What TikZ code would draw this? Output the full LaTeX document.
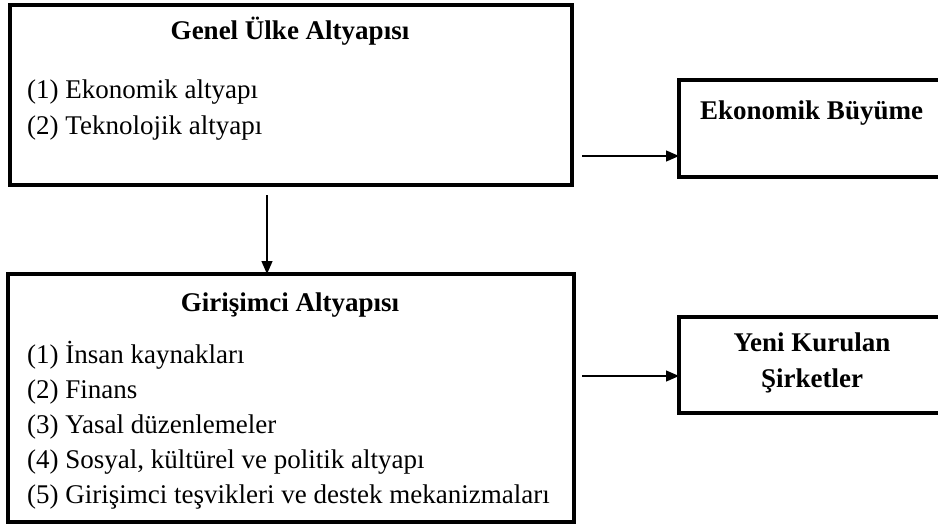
\documentclass[tikz,border=0pt]{standalone}
\usepackage{fontspec}
\setmainfont{Liberation Serif}
\usetikzlibrary{arrows.meta}
\begin{document}
\begin{tikzpicture}[x=1pt,y=-1pt,
  box/.style={draw=black, line width=3.8pt, anchor=north west, inner sep=0pt, outer sep=0pt},
  head/.style={font=\fontsize{27}{33}\selectfont\bfseries, inner sep=0pt, text height=19pt, text depth=6pt},
  item/.style={font=\fontsize{27}{33}\selectfont, anchor=west, inner sep=0pt, text height=19pt, text depth=6pt},
  conn/.style={line width=1.3pt, -{Triangle[length=13pt,width=11pt]}}]
\fill[white] (0,0) rectangle (938,528);
\useasboundingbox (0,0) rectangle (938,528);
\clip (0,0) rectangle (938,528);
% boxes
\node[box, minimum width=562pt, minimum height=180pt] (top) at (10,5) {};
\node[box, minimum width=566pt, minimum height=248pt] (bot) at (8,274) {};
\node[box, minimum width=300pt, minimum height=97pt] (eb) at (679,80) {};
\node[box, minimum width=300pt, minimum height=96pt] (yk) at (679,317) {};
% texts
\node[head] (t1) at (290,33) {Genel Ülke Altyapısı};
\node[item] (t1a) at (27,92) {(1) Ekonomik altyapı};
\node[item] (t1b) at (27,128) {(2) Teknolojik altyapı};
\node[head] (t2) at (290,305) {Girişimci Altyapısı};
\node[item] (t2a) at (27,357) {(1) İnsan kaynakları};
\node[item] (t2b) at (27,392) {(2) Finans};
\node[item] (t2c) at (27,427) {(3) Yasal düzenlemeler};
\node[item] (t2d) at (27,462) {(4) Sosyal, kültürel ve politik altyapı};
\node[item] (t2e) at (27,497) {(5) Girişimci teşvikleri ve destek mekanizmaları};
\node[head, anchor=west] (t3) at (700,113) {Ekonomik Büyüme};
\node[head] (t4) at (812,345) {Yeni Kurulan};
\node[head] (t5) at (812,381) {Şirketler};
% connectors
\coordinate (a1) at (267,195);
\draw[conn] (a1) -- (a1 |- bot.north);
\coordinate (a2) at (582,156);
\draw[conn] (a2) -- (a2 -| eb.west);
\coordinate (a3) at (582,376);
\draw[conn] (a3) -- (a3 -| yk.west);
\end{tikzpicture}
\end{document}
